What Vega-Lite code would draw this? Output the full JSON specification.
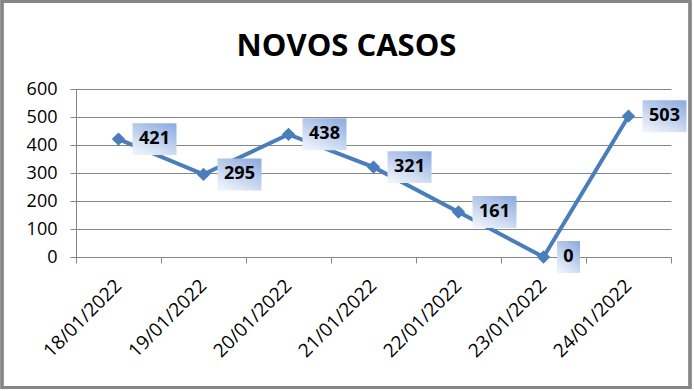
{
  "$schema": "https://vega.github.io/schema/vega-lite/v6.json",
  "autosize": {"type": "none"},
  "width": 595,
  "height": 168,
  "padding": {"left": 76, "top": 89, "right": 23, "bottom": 134},
  "background": "white",
  "title": {
    "text": "NOVOS CASOS",
    "font": "Open Sans",
    "fontSize": 31,
    "fontWeight": "bold",
    "color": "black",
    "anchor": "middle",
    "frame": "group",
    "baseline": "alphabetic",
    "dx": -27,
    "dy": 87,
    "offset": 0
  },
  "data": {
    "values": [
      {"data": "18/01/2022", "casos": 421},
      {"data": "19/01/2022", "casos": 295},
      {"data": "20/01/2022", "casos": 438},
      {"data": "21/01/2022", "casos": 321},
      {"data": "22/01/2022", "casos": 161},
      {"data": "23/01/2022", "casos": 0},
      {"data": "24/01/2022", "casos": 503}
    ]
  },
  "encoding": {
    "x": {
      "field": "data",
      "type": "ordinal",
      "sort": null,
      "scale": {"type": "band", "paddingInner": 0, "paddingOuter": 0},
      "axis": {
        "title": null,
        "tickBand": "extent",
        "labelAngle": -45,
        "labelFont": "Open Sans",
        "labelFontSize": 19,
        "labelColor": "black",
        "labelPadding": 13,
        "labelOffset": -7,
        "domainColor": "#868686",
        "domainWidth": 1,
        "tickColor": "#868686",
        "tickSize": 6,
        "grid": false
      }
    },
    "y": {
      "field": "casos",
      "type": "quantitative",
      "scale": {"domain": [0, 600], "nice": false},
      "axis": {
        "title": null,
        "values": [0, 100, 200, 300, 400, 500, 600],
        "labelFont": "Open Sans",
        "labelFontSize": 18,
        "labelColor": "black",
        "labelPadding": 13,
        "domainColor": "#868686",
        "tickColor": "#868686",
        "tickSize": 6,
        "grid": true,
        "gridColor": "#868686",
        "gridWidth": 1
      }
    }
  },
  "layer": [
    {
      "mark": {"type": "rect", "fill": null, "stroke": "#868686", "strokeWidth": 2.5},
      "encoding": {
        "x": {"value": -74},
        "x2": {"value": 614},
        "y": {"value": -87.5},
        "y2": {"value": 298.5}
      }
    },
    {
      "mark": {"type": "line", "color": "#4a7ebb", "strokeWidth": 4}
    },
    {
      "mark": {"type": "point", "shape": "diamond", "filled": true, "size": 180, "color": "#4a7ebb", "opacity": 1}
    },
    {
      "transform": [{"filter": "datum.casos > 0"}],
      "layer": [
        {
          "mark": {
            "type": "point",
            "shape": "M-1,-0.727H1V0.727H-1Z",
            "size": 1936,
            "filled": true,
            "opacity": 1,
            "strokeWidth": 0,
            "xOffset": 36,
            "fill": {
              "gradient": "linear",
              "x1": 0.2, "y1": 1, "x2": 0.8, "y2": 0,
              "stops": [
                {"offset": 0, "color": "#eef3fb"},
                {"offset": 1, "color": "#92afe0"}
              ]
            }
          }
        },
        {
          "mark": {"type": "text", "font": "Open Sans", "fontSize": 18, "fontWeight": "bold", "color": "black", "dx": 36, "align": "center", "baseline": "middle"},
          "encoding": {"text": {"field": "casos", "type": "quantitative"}}
        }
      ]
    },
    {
      "transform": [{"filter": "datum.casos == 0"}],
      "layer": [
        {
          "mark": {
            "type": "point",
            "shape": "M-0.72,-1H0.72V1H-0.72Z",
            "size": 1024,
            "filled": true,
            "opacity": 1,
            "strokeWidth": 0,
            "xOffset": 25,
            "fill": {
              "gradient": "linear",
              "x1": 0.2, "y1": 1, "x2": 0.8, "y2": 0,
              "stops": [
                {"offset": 0, "color": "#eef3fb"},
                {"offset": 1, "color": "#92afe0"}
              ]
            }
          }
        },
        {
          "mark": {"type": "text", "font": "Open Sans", "fontSize": 18, "fontWeight": "bold", "color": "black", "dx": 25, "align": "center", "baseline": "middle"},
          "encoding": {"text": {"field": "casos", "type": "quantitative"}}
        }
      ]
    }
  ],
  "config": {"view": {"stroke": null}}
}
